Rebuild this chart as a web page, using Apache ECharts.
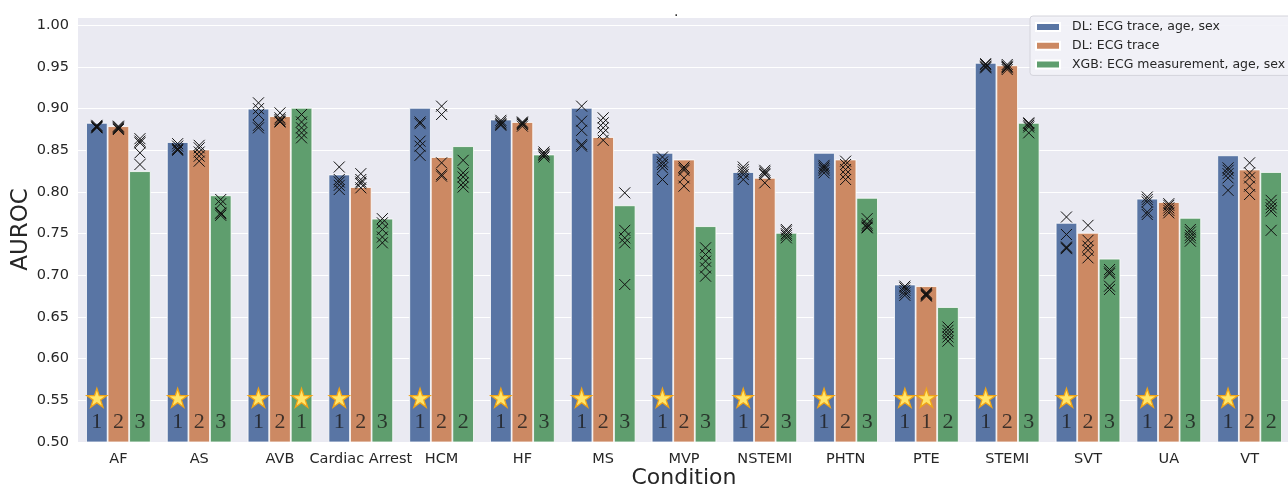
<!DOCTYPE html>
<html>
<head>
<meta charset="utf-8">
<script src="https://cdn.jsdelivr.net/npm/echarts@6/dist/echarts.min.js"></script>
<style>html,body{margin:0;padding:0;background:#fff}#c{width:1288px;height:486px}</style>
</head>
<body>
<div id="c"></div>
<script>
const categories = ['AF','AS','AVB','Cardiac Arrest','HCM','HF','MS','MVP','NSTEMI','PHTN','PTE','STEMI','SVT','UA','VT'];
const seriesNames = ['DL: ECG trace, age, sex','DL: ECG trace','XGB: ECG measurement, age, sex'];

const blueVals   = [0.883,0.860,0.900,0.821,0.901,0.887,0.901,0.847,0.824,0.847,0.689,0.955,0.763,0.792,0.844];
const orangeVals = [0.879,0.851,0.891,0.806,0.842,0.884,0.866,0.839,0.817,0.839,0.687,0.952,0.751,0.788,0.827];
const greenVals  = [0.825,0.796,0.901,0.768,0.855,0.845,0.784,0.759,0.751,0.793,0.662,0.883,0.720,0.769,0.824];

const blueFolds = [
  [0.880,0.879,0.878,0.877,0.878],[0.858,0.855,0.852,0.850,0.851],[0.907,0.900,0.893,0.880,0.877],
  [0.830,0.815,0.812,0.808,0.803],[0.884,0.882,0.861,0.855,0.844],[0.886,0.884,0.882,0.881,0.880],
  [0.903,0.885,0.874,0.857,0.855],[0.842,0.836,0.833,0.829,0.815],[0.830,0.827,0.824,0.821,0.815],
  [0.832,0.830,0.828,0.826,0.823],[0.687,0.685,0.682,0.679,0.676],[0.954,0.953,0.951,0.950,0.949],
  [0.770,0.749,0.734,0.733,0.732],[0.794,0.791,0.788,0.776,0.773],[0.829,0.826,0.822,0.817,0.802]
];
const orangeFolds = [
  [0.879,0.877,0.876,0.875,0.878],[0.856,0.853,0.848,0.843,0.837],[0.895,0.889,0.885,0.884,0.887],
  [0.822,0.815,0.812,0.810,0.805],[0.903,0.893,0.835,0.821,0.819],[0.884,0.883,0.882,0.881,0.879],
  [0.889,0.883,0.877,0.871,0.862],[0.830,0.828,0.826,0.817,0.807],[0.826,0.824,0.822,0.821,0.811],
  [0.837,0.833,0.827,0.821,0.815],[0.679,0.678,0.677,0.676,0.675],[0.953,0.951,0.950,0.949,0.947],
  [0.760,0.742,0.735,0.730,0.721],[0.786,0.784,0.781,0.778,0.775],[0.835,0.823,0.817,0.807,0.797]
];
const greenFolds = [
  [0.864,0.861,0.859,0.847,0.833],[0.791,0.786,0.775,0.772,0.774],[0.893,0.884,0.877,0.871,0.865],
  [0.768,0.763,0.755,0.746,0.739],[0.838,0.823,0.818,0.811,0.806],[0.848,0.846,0.845,0.844,0.842],
  [0.799,0.754,0.745,0.739,0.689],[0.733,0.725,0.717,0.709,0.699],[0.755,0.753,0.750,0.748,0.745],
  [0.768,0.762,0.760,0.758,0.757],[0.638,0.634,0.630,0.626,0.621],[0.883,0.882,0.880,0.878,0.871],
  [0.707,0.704,0.702,0.687,0.683],[0.755,0.752,0.748,0.745,0.741],[0.790,0.785,0.781,0.777,0.754]
];

const blueRank   = [1,1,1,1,1,1,1,1,1,1,1,1,1,1,1];
const orangeRank = [2,2,2,2,2,2,2,2,2,2,1,2,2,2,2];
const greenRank  = [3,3,1,3,2,3,3,3,3,3,2,3,3,3,2];

const yTicksMin = 0.5, yTicksMax = 1.01, yInterval = 0.05;
const starLevel = 0.553, rankLevel = 0.524;

const colors = ['#5975a4','#cc8963','#5f9e6e'];
const vals = [blueVals, orangeVals, greenVals];
const folds = [blueFolds, orangeFolds, greenFolds];
const ranks = [blueRank, orangeRank, greenRank];
const slot = 0.8 / 3;

const STAR = 'path://M50,0 L61.2,34.5 L97.6,34.5 L68.2,55.9 L79.4,90.5 L50,69.1 L20.6,90.5 L31.8,55.9 L2.4,34.5 L38.8,34.5 Z';
const CROSS = 'path://M0,0L10,10M10,0L0,10';

const series = [];
vals.forEach((v, s) => {
  series.push({
    name: seriesNames[s], type: 'bar', data: v, xAxisIndex: 0,
    barGap: '0%', barCategoryGap: '20%',
    itemStyle: { color: colors[s], borderColor: '#ffffff', borderWidth: 0.8 },
    z: 2
  });
});
const crossData = [], starData = [], rankData = [];
for (let s = 0; s < 3; s++) {
  for (let i = 0; i < categories.length; i++) {
    const x = i + (s - 1) * slot;
    folds[s][i].forEach(f => crossData.push([x, f]));
    if (ranks[s][i] === 1) starData.push([x, starLevel]);
    rankData.push([x, rankLevel, ranks[s][i]]);
  }
}
series.push({
  type: 'scatter', xAxisIndex: 1, data: crossData, symbol: CROSS, symbolSize: 11,
  itemStyle: { color: 'none', borderColor: '#111', borderWidth: 1, opacity: 1 }, z: 5, silent: true
});
series.push({
  type: 'scatter', xAxisIndex: 1, data: starData, symbol: STAR, symbolSize: [20, 19],
  itemStyle: { color: '#ffe66a', borderColor: '#f0a418', borderWidth: 1.3, opacity: 1 }, z: 6, silent: true
});
series.push({
  type: 'scatter', xAxisIndex: 1, data: rankData, symbolSize: 0.1,
  itemStyle: { color: 'transparent' },
  label: { show: true, position: 'inside', formatter: p => String(p.data[2]),
           fontFamily: 'Liberation Serif', fontSize: 22, color: '#1a1a1a' },
  z: 6, silent: true
});

const chart = echarts.init(document.getElementById('c'), null, { renderer: 'canvas' });
chart.setOption({
  animation: false,
  textStyle: { fontFamily: 'DejaVu Sans' },
  title: { text: '.', left: 669, top: 0, textStyle: { fontSize: 14, color: '#262626', fontWeight: 'normal' } },
  grid: { left: 78, top: 17, width: 1212, height: 425, show: true, backgroundColor: '#eaeaf2', borderWidth: 0,
          outerBoundsMode: 'none', containLabel: false },
  legend: {
    data: seriesNames, orient: 'vertical', left: 1030, top: 16,
    icon: 'rect', itemWidth: 24, itemHeight: 8, itemGap: 4.7,
    padding: [4, 10, 4, 5],
    backgroundColor: 'rgba(242,242,247,0.9)', borderColor: '#d4d4dc', borderWidth: 1, borderRadius: 3,
    textStyle: { fontSize: 12.5, color: '#262626', lineHeight: 14, padding: [0, 0, 0, 7] }
  },
  xAxis: [{
    type: 'category', data: categories,
    axisLine: { show: false }, axisTick: { show: false },
    axisLabel: { fontSize: 14.5, color: '#262626', margin: 10, interval: 0 },
    name: 'Condition', nameLocation: 'middle', nameGap: 25, nameMoveOverlap: false,
    nameTextStyle: { fontSize: 22, color: '#262626' }
  }, {
    type: 'value', min: -0.5, max: categories.length - 0.5, show: false
  }],
  yAxis: {
    type: 'value', min: yTicksMin, max: yTicksMax, interval: yInterval,
    axisLine: { show: false }, axisTick: { show: false },
    axisLabel: { fontSize: 14.5, color: '#262626', margin: 9, showMaxLabel: false,
                 formatter: v => v.toFixed(2) },
    splitLine: { lineStyle: { color: '#ffffff', width: 1.2 } },
    name: 'AUROC', nameLocation: 'middle', nameGap: 45, nameMoveOverlap: false,
    nameTextStyle: { fontSize: 23, color: '#262626' }
  },
  series: series
});
</script>
</body>
</html>
